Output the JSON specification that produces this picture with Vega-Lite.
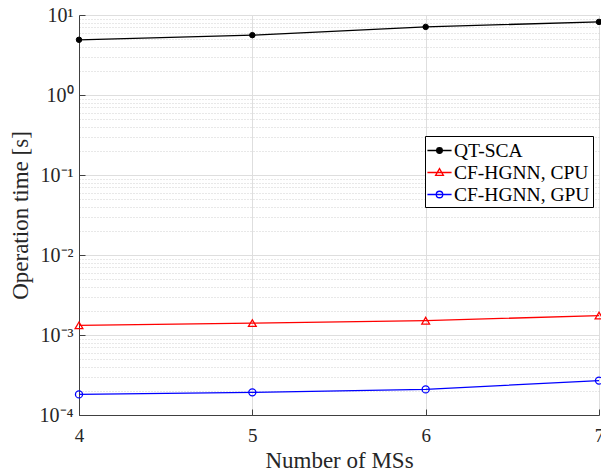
{
  "$schema": "https://vega.github.io/schema/vega-lite/v6.json",
  "width": 520,
  "height": 400,
  "autosize": {"type": "none"},
  "padding": {"left": 79, "top": 15, "right": 2, "bottom": 60},
  "background": "white",
  "config": {
    "view": {"stroke": null},
    "font": "Liberation Serif"
  },
  "data": {
    "values": [
      {"series": "QT-SCA", "ms": 4, "time": 4.9},
      {"series": "QT-SCA", "ms": 5, "time": 5.6},
      {"series": "QT-SCA", "ms": 6, "time": 7.1},
      {"series": "QT-SCA", "ms": 7, "time": 8.2},
      {"series": "CF-HGNN, CPU", "ms": 4, "time": 0.00132},
      {"series": "CF-HGNN, CPU", "ms": 5, "time": 0.00141},
      {"series": "CF-HGNN, CPU", "ms": 6, "time": 0.00151},
      {"series": "CF-HGNN, CPU", "ms": 7, "time": 0.00175},
      {"series": "CF-HGNN, GPU", "ms": 4, "time": 0.000181},
      {"series": "CF-HGNN, GPU", "ms": 5, "time": 0.000192},
      {"series": "CF-HGNN, GPU", "ms": 6, "time": 0.000209},
      {"series": "CF-HGNN, GPU", "ms": 7, "time": 0.000269}
    ]
  },
  "encoding": {
    "x": {
      "field": "ms", "type": "quantitative",
      "scale": {"domain": [4, 7], "nice": false, "zero": false},
      "axis": {
        "title": "Number of MSs",
        "values": [4, 5, 6, 7],
        "format": "d",
        "grid": true,
        "gridColor": "#dedede",
        "gridWidth": 1,
        "domainColor": "#404040",
        "domainWidth": 1,
        "tickColor": "#404040",
        "tickSize": -6,
        "labelPadding": 17,
        "labelFont": "Liberation Serif",
        "labelFontSize": 19,
        "labelColor": "#262626",
        "labelFlush": false,
        "labelBound": false,
        "labelOverlap": false,
        "titleFont": "Liberation Serif",
        "titleFontSize": 23,
        "titleFontWeight": "normal",
        "titleColor": "#262626",
        "titlePadding": 4
      }
    },
    "y": {
      "field": "time", "type": "quantitative",
      "scale": {"type": "log", "domain": [0.0001, 10], "nice": false},
      "axis": {
        "title": "Operation time [s]",
        "values": [0.0001, 0.0002, 0.0003, 0.0004, 0.0005, 0.0006, 0.0007, 0.0008, 0.0009,
                   0.001, 0.002, 0.003, 0.004, 0.005, 0.006, 0.007, 0.008, 0.009,
                   0.01, 0.02, 0.03, 0.04, 0.05, 0.06, 0.07, 0.08, 0.09,
                   0.1, 0.2, 0.3, 0.4, 0.5, 0.6, 0.7, 0.8, 0.9,
                   1, 2, 3, 4, 5, 6, 7, 8, 9, 10],
        "labelExpr": "abs(log(datum.value)/LN10 - round(log(datum.value)/LN10)) < 1e-6 ? '10' + (round(log(datum.value)/LN10) < 0 ? '⁻' : '') + ['⁰','¹','²','³','⁴'][abs(round(log(datum.value)/LN10))] : ''",
        "grid": true,
        "gridColor": {
          "condition": {"test": "abs(log(datum.value)/LN10 - round(log(datum.value)/LN10)) < 1e-6", "value": "#dedede"},
          "value": "#d0d0d0"
        },
        "gridDash": {
          "condition": {"test": "abs(log(datum.value)/LN10 - round(log(datum.value)/LN10)) < 1e-6", "value": []},
          "value": [1, 2]
        },
        "gridWidth": 1,
        "domainColor": "#404040",
        "domainWidth": 1,
        "tickColor": "#404040",
        "tickSize": -6,
        "tickOpacity": {
          "condition": {"test": "abs(log(datum.value)/LN10 - round(log(datum.value)/LN10)) < 1e-6", "value": 1},
          "value": 0
        },
        "labelPadding": 12,
        "labelFont": "Liberation Serif",
        "labelFontSize": 20,
        "labelColor": "#262626",
        "labelOverlap": false,
        "labelFlush": false,
        "labelBound": false,
        "titleFont": "Liberation Serif",
        "titleFontSize": 23,
        "titleFontWeight": "normal",
        "titleColor": "#262626",
        "titlePadding": 7
      }
    }
  },
  "layer": [
    {
      "mark": {"type": "line", "strokeWidth": 1.3},
      "encoding": {
        "color": {
          "field": "series", "type": "nominal",
          "scale": {"domain": ["QT-SCA", "CF-HGNN, CPU", "CF-HGNN, GPU"], "range": ["#000000", "#ff0000", "#0000ff"]},
          "legend": {
            "title": null,
            "orient": "none",
            "legendX": 346,
            "legendY": 121,
            "strokeColor": "#000000",
            "fillColor": "#ffffff",
            "padding": 3,
            "rowPadding": 1,
            "symbolSize": 441,
            "symbolStrokeWidth": 1.3,
            "labelOffset": 3,
            "labelFont": "Liberation Serif",
            "labelFontSize": 19.5,
            "labelColor": "#000000",
            "labelLimit": 300,
            "encode": {
              "symbols": {
                "update": {
                  "shape": {"signal": "datum.value === 'QT-SCA' ? 'M-1.15,0H1.15M-0.27,0A0.27,0.27,0,1,0,0.27,0A0.27,0.27,0,1,0,-0.27,0Z' : datum.value === 'CF-HGNN, CPU' ? 'M-1.15,0H1.15M0,-0.37L0.37,0.27L-0.37,0.27Z' : 'M-1.15,0H1.15M-0.31,0A0.31,0.31,0,1,0,0.31,0A0.31,0.31,0,1,0,-0.31,0Z'"},
                  "fill": {"signal": "datum.value === 'QT-SCA' ? '#000000' : 'transparent'"}
                }
              }
            }
          }
        }
      }
    },
    {
      "transform": [{"filter": "datum.series === 'QT-SCA'"}],
      "mark": {"type": "point", "shape": "circle", "filled": true, "fill": "#000000", "stroke": "#000000", "strokeWidth": 1, "size": 30, "opacity": 1}
    },
    {
      "transform": [{"filter": "datum.series === 'CF-HGNN, CPU'"}],
      "mark": {"type": "point", "shape": "triangle-up", "filled": false, "stroke": "#ff0000", "strokeWidth": 1.3, "size": 60, "opacity": 1}
    },
    {
      "transform": [{"filter": "datum.series === 'CF-HGNN, GPU'"}],
      "mark": {"type": "point", "shape": "circle", "filled": false, "stroke": "#0000ff", "strokeWidth": 1.3, "size": 50, "opacity": 1}
    }
  ]
}
